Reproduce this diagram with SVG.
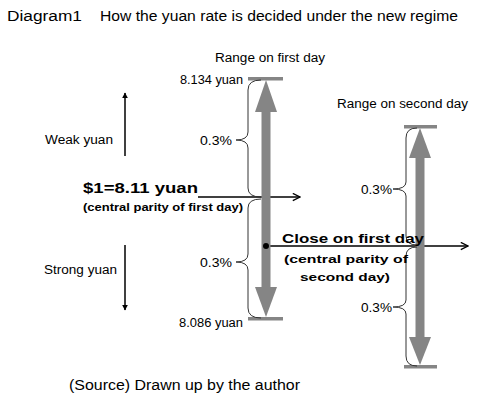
<svg xmlns="http://www.w3.org/2000/svg" width="478" height="408" viewBox="0 0 478 408">
<defs>
<marker id="chev" viewBox="0 0 10 10" refX="9" refY="5" markerWidth="9" markerHeight="9" markerUnits="userSpaceOnUse" orient="auto">
<path d="M1,1 L9,5 L1,9" fill="none" stroke="#000" stroke-width="1.5"/>
</marker>
<marker id="tri" viewBox="0 0 10 10" refX="9" refY="5" markerWidth="6" markerHeight="6" markerUnits="userSpaceOnUse" orient="auto">
<path d="M0,0 L10,5 L0,10 Z" fill="#000"/>
</marker>
</defs>
<style>
text{font-family:"Liberation Sans",Arial,sans-serif;fill:#000}
.t{font-size:14px}
.s{font-size:12px}
.b{font-weight:bold}
.bar{fill:#858585}
.brace{fill:none;stroke:#333;stroke-width:1}
.ln{stroke:#000;stroke-width:1.5;fill:none}
</style>
<rect width="478" height="408" fill="#fff"/>
<g id="title">
<text class="t" x="7" y="21" textLength="75" lengthAdjust="spacingAndGlyphs">Diagram1</text>
<text class="t" x="100" y="21" textLength="358" lengthAdjust="spacingAndGlyphs">How the yuan rate is decided under the new regime</text>
</g>

<g id="connectors">
<line class="ln" x1="198" y1="197" x2="300" y2="197" marker-end="url(#chev)"/>
<line class="ln" x1="266" y1="246" x2="468" y2="246" marker-end="url(#chev)"/>
<line class="ln" x1="125" y1="156" x2="125" y2="93" marker-end="url(#tri)"/>
<line class="ln" x1="125" y1="245" x2="125" y2="310" marker-end="url(#tri)"/>
</g>

<g id="first-day-range">
<text class="s" x="215" y="62" textLength="110" lengthAdjust="spacingAndGlyphs">Range on first day</text>
<rect class="bar" x="248" y="77" width="35" height="3.5"/>
<rect class="bar" x="248" y="317" width="35" height="3.5"/>
<rect class="bar" x="261.5" y="110" width="9" height="180"/>
<polygon class="bar" points="266,80 255,112 277,112"/>
<polygon class="bar" points="255,287 277,287 266,317"/>
<text class="s" x="180" y="84" textLength="63" lengthAdjust="spacingAndGlyphs">8.134 yuan</text>
<text class="s" x="179" y="327" textLength="64" lengthAdjust="spacingAndGlyphs">8.086 yuan</text>
<path class="brace" d="M261,80 Q248,80 248,90 L248,132 Q248,140 236,140 Q248,140 248,148 L248,188 Q248,197 261,197"/>
<path class="brace" d="M261,199 Q248,199 248,208 L248,254 Q248,262 236,262 Q248,262 248,270 L248,308 Q248,318 261,318"/>
<text class="s" x="200" y="145" textLength="32" lengthAdjust="spacingAndGlyphs">0.3%</text>
<text class="s" x="200" y="267" textLength="32" lengthAdjust="spacingAndGlyphs">0.3%</text>
<circle cx="266" cy="246" r="3" fill="#000"/>
</g>

<g id="second-day-range">
<text class="s" x="337" y="108" textLength="131" lengthAdjust="spacingAndGlyphs">Range on second day</text>
<rect class="bar" x="404" y="125" width="33" height="3.5"/>
<rect class="bar" x="404" y="365" width="33" height="3.5"/>
<rect class="bar" x="415.5" y="156" width="9" height="183"/>
<polygon class="bar" points="420,128 409,158 431,158"/>
<polygon class="bar" points="409,337 431,337 420,365"/>
<path class="brace" d="M417,128 Q406,128 406,138 L406,182 Q406,189 393,189 Q406,189 406,196 L406,236 Q406,245 417,245"/>
<path class="brace" d="M417,247 Q406,247 406,256 L406,300 Q406,307 393,307 Q406,307 406,314 L406,356 Q406,366 417,366"/>
<text class="s" x="361" y="194" textLength="31" lengthAdjust="spacingAndGlyphs">0.3%</text>
<text class="s" x="361" y="312" textLength="31" lengthAdjust="spacingAndGlyphs">0.3%</text>
</g>

<g id="parity-first-day">
<text class="t b" x="83" y="193" textLength="115" lengthAdjust="spacingAndGlyphs">$1=8.11 yuan</text>
<text class="b" font-size="11" x="83" y="211" textLength="160" lengthAdjust="spacingAndGlyphs">(central parity of first day)</text>
</g>

<g id="close-first-day">
<text class="s b" x="282" y="243" textLength="142" lengthAdjust="spacingAndGlyphs">Close on first day</text>
<text class="b" font-size="11.5" x="284" y="263" textLength="124" lengthAdjust="spacingAndGlyphs">(central parity of</text>
<text class="b" font-size="11.5" x="300" y="281" textLength="90" lengthAdjust="spacingAndGlyphs">second day)</text>
</g>

<g id="weak-yuan"><text class="s" x="45" y="144" textLength="68" lengthAdjust="spacingAndGlyphs">Weak yuan</text></g>
<g id="strong-yuan"><text class="s" x="44" y="274" textLength="73" lengthAdjust="spacingAndGlyphs">Strong yuan</text></g>

<g id="source"><text class="t" x="69" y="390" textLength="231" lengthAdjust="spacingAndGlyphs">(Source) Drawn up by the author</text></g>
</svg>
